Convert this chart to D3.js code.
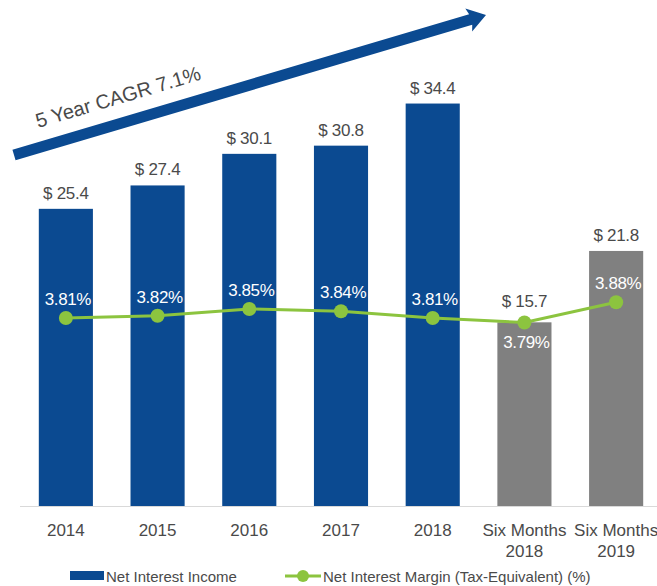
<html>
<head>
    <title>Net Interest Income</title>
    <script src="https://d3js.org/d3.v7.min.js" charset="utf-8"></script>
    <style>
        body {
            margin: 0;
            background: white;
            font-family: "Liberation Sans", Arial, sans-serif;
        }
    </style>
</head>
<body>
<script>
    // chart data
    var categories = ["2014", "2015", "2016", "2017", "2018", "Six Months 2018", "Six Months 2019"];
    var income = [25.4, 27.4, 30.1, 30.8, 34.4, 15.7, 21.8];
    var margin = [3.81, 3.82, 3.85, 3.84, 3.81, 3.79, 3.88];
    var incomeLabels = ["$ 25.4", "$ 27.4", "$ 30.1", "$ 30.8", "$ 34.4", "$ 15.7", "$ 21.8"];
    var marginLabels = ["3.81%", "3.82%", "3.85%", "3.84%", "3.81%", "3.79%", "3.88%"];
    var tickLines = [["2014"], ["2015"], ["2016"], ["2017"], ["2018"], ["Six Months", "2018"], ["Six Months", "2019"]];
    var cagrText = "5 Year CAGR 7.1%";

    var width = 657;
    var height = 586;

    var blue = "#0b4a91";
    var gray = "#808080";
    var green = "#8cc43f";
    var textColor = "#4a4a4a";

    var svg = d3.select("body")
        .append("svg")
        .attr("width", width)
        .attr("height", height);

    var x = d3.scaleBand()
        .domain(categories)
        .range([20, 662])
        .paddingInner(0.41)
        .paddingOuter(0.205);

    // bars: $ millions
    var y = d3.scaleLinear()
        .domain([0, 43.25])
        .range([506, 0]);

    // margin line: percent
    var y2 = d3.scaleLinear()
        .domain([3.7, 3.9])
        .range([342.75, 297.75]);

    var isHalf = function(i) { return i >= 5; };

    // baseline
    svg.append("line")
        .attr("x1", 20).attr("x2", width)
        .attr("y1", y(0) + 0.5).attr("y2", y(0) + 0.5)
        .attr("stroke", "#d9d9d9")
        .attr("stroke-width", 1);

    svg.selectAll("rect.bar")
        .data(income)
        .enter()
        .append("rect")
        .attr("class", "bar")
        .attr("x", function(d, i) { return x(categories[i]); })
        .attr("y", function(d) { return y(d); })
        .attr("width", x.bandwidth())
        .attr("height", function(d) { return y(0) - y(d); })
        .attr("fill", function(d, i) { return isHalf(i) ? gray : blue; });

    var cx = function(i) { return x(categories[i]) + x.bandwidth() / 2; };

    // $ labels above the bars (kept clear of the line point)
    svg.selectAll("text.val")
        .data(income)
        .enter()
        .append("text")
        .attr("class", "val")
        .attr("x", function(d, i) { return cx(i); })
        .attr("y", function(d, i) { return Math.min(y(d) - 10, y2(margin[i]) - 16); })
        .attr("text-anchor", "middle")
        .attr("font-size", 17)
        .attr("letter-spacing", -0.3)
        .attr("fill", textColor)
        .text(function(d, i) { return incomeLabels[i]; });

    // green line
    var line = d3.line()
        .x(function(d, i) { return cx(i); })
        .y(function(d) { return y2(d); });

    svg.append("path")
        .datum(margin)
        .attr("d", line)
        .attr("fill", "none")
        .attr("stroke", green)
        .attr("stroke-width", 3);

    svg.selectAll("circle.pt")
        .data(margin)
        .enter()
        .append("circle")
        .attr("class", "pt")
        .attr("cx", function(d, i) { return cx(i); })
        .attr("cy", function(d) { return y2(d); })
        .attr("r", 7)
        .attr("fill", green);

    // % labels: below the point if the bar top is too close
    svg.selectAll("text.pct")
        .data(margin)
        .enter()
        .append("text")
        .attr("class", "pct")
        .attr("x", function(d, i) { return cx(i) + 2; })
        .attr("y", function(d, i) {
            var py = y2(d);
            return (py - y(income[i]) < 30) ? py + 25 : py - 13;
        })
        .attr("text-anchor", "middle")
        .attr("font-size", 17)
        .attr("letter-spacing", -0.4)
        .attr("fill", "white")
        .text(function(d, i) { return marginLabels[i]; });

    // x axis labels
    var ticks = svg.selectAll("text.tick")
        .data(tickLines)
        .enter()
        .append("text")
        .attr("class", "tick")
        .attr("text-anchor", "middle")
        .attr("font-size", 17)
        .attr("fill", textColor);

    ticks.selectAll("tspan")
        .data(function(d, i) { return d.map(function(s) { return {s: s, i: i}; }); })
        .enter()
        .append("tspan")
        .attr("x", function(d) { return cx(d.i); })
        .attr("y", function(d, j) { return 536 + j * 21; })
        .text(function(d) { return d.s; });

    // CAGR arrow
    var arrow = svg.append("g");
    var x0 = 14, yA0 = 155, x1 = 486, yA1 = 15;
    var ang = Math.atan2(yA1 - yA0, x1 - x0);
    var len = Math.hypot(x1 - x0, yA1 - yA0);
    var g = arrow.append("g")
        .attr("transform", "translate(" + x0 + "," + yA0 + ") rotate(" + (ang * 180 / Math.PI) + ")");
    g.append("path")
        .attr("d", "M0,-5.5 L" + (len - 16) + ",-5.5 L" + (len - 18) + ",-12 L" + len + ",0 L" + (len - 18) + ",12 L" + (len - 16) + ",5.5 L0,5.5 Z")
        .attr("fill", blue);

    svg.append("text")
        .attr("transform", "translate(38,128) rotate(" + (ang * 180 / Math.PI) + ")")
        .attr("font-size", 20)
        .attr("fill", textColor)
        .text(cagrText);

    // legend
    var leg = svg.append("g");
    leg.append("rect")
        .attr("x", 70).attr("y", 571)
        .attr("width", 34).attr("height", 9)
        .attr("fill", blue);
    leg.append("text")
        .attr("x", 106).attr("y", 582)
        .attr("font-size", 15)
        .attr("fill", textColor)
        .text("Net Interest Income");

    leg.append("line")
        .attr("x1", 285).attr("x2", 321)
        .attr("y1", 576).attr("y2", 576)
        .attr("stroke", green)
        .attr("stroke-width", 3);
    leg.append("circle")
        .attr("cx", 303).attr("cy", 576)
        .attr("r", 6)
        .attr("fill", green);
    leg.append("text")
        .attr("x", 323).attr("y", 582)
        .attr("font-size", 15)
        .attr("fill", textColor)
        .text("Net Interest Margin (Tax-Equivalent) (%)");
</script>
</body>
</html>
